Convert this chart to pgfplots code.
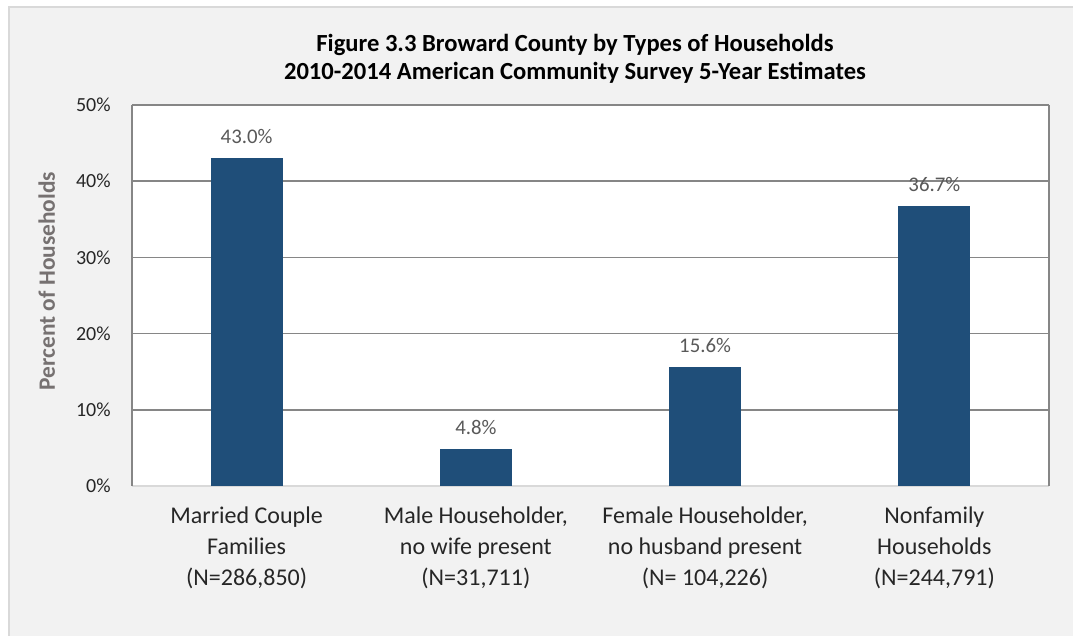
\documentclass[border=0pt]{standalone}
\usepackage{fontspec}
\setmainfont{Carlito}
\usepackage{pgfplots}
\pgfplotsset{compat=1.18}
\definecolor{barblue}{HTML}{1F4E79}
\definecolor{bggray}{HTML}{F2F2F2}
\definecolor{framegray}{HTML}{D9D9D9}
\definecolor{gridgray}{HTML}{868686}
\definecolor{baseline}{HTML}{D9D9D9}
\definecolor{labgray}{HTML}{595959}
\definecolor{ytitle}{HTML}{767171}
\definecolor{ticktext}{HTML}{262626}

\begin{document}
\begin{tikzpicture}
% page = reference pixels / 2 (1px = 0.5pt)
\useasboundingbox (0pt,0pt) rectangle (536.5pt,318pt);
\begin{scope}
\clip (0pt,0pt) rectangle (536.5pt,318pt);
\fill[white] (0pt,0pt) rectangle (536.5pt,318pt);
\filldraw[fill=bggray, draw=framegray, line width=1pt] (4.5pt,-10pt) rectangle (545pt,314.5pt);
\end{scope}
\node[align=center, font=\fontsize{12.3}{14}\selectfont\bfseries, text=black]
  at (287.5pt,288.5pt) {Figure 3.3 Broward County by Types of Households\\2010-2014 American Community Survey 5-Year Estimates};

\begin{axis}[
  at={(66pt,75pt)}, anchor=south west,
  scale only axis, width=458.5pt, height=190.5pt,
  axis background/.style={fill=white},
  ybar, bar width=35.5pt,
  xmin=-0.5, xmax=3.5, ymin=0, ymax=50,
  xtick=data,
  xticklabels={{Married Couple\\Families\\(N=286,850)},
               {Male Householder,\\no wife present\\(N=31,711)},
               {Female Householder,\\no husband present\\(N= 104,226)},
               {Nonfamily\\Households\\(N=244,791)}},
  ytick={0,10,20,30,40,50},
  yticklabel={\pgfmathprintnumber{\tick}\%},
  /pgf/number format/assume math mode=true,
  major tick length=0pt,
  axis x line*=bottom,
  x axis line style={draw=baseline, line width=1pt},
  y axis line style={draw=gridgray, line width=0.75pt},
  ymajorgrids, grid style={draw=gridgray, line width=0.75pt},
  xticklabel style={align=center, inner sep=0pt, yshift=-10pt, text=ticktext,
    font=\fontsize{12}{15.5}\selectfont},
  yticklabel style={inner sep=0pt, xshift=-10.5pt, text=ticktext,
    font=\fontsize{10}{12}\selectfont},
  ylabel={Percent of Households},
  ylabel style={at={(axis description cs:-0.093,0.538)}, anchor=center,
    font=\fontsize{11.7}{13}\selectfont\bfseries, text=ytitle},
  nodes near coords={\pgfmathprintnumber[fixed,fixed zerofill,precision=1]{\pgfplotspointmeta}\%},
  every node near coord/.append style={font=\fontsize{10.4}{12}\selectfont, text=labgray,
    inner sep=0pt, anchor=south, yshift=7pt},
]
\addplot[fill=barblue, draw=barblue] coordinates {(0,43.0) (1,4.8) (2,15.6) (3,36.7)};
\end{axis}
\end{tikzpicture}
\end{document}
